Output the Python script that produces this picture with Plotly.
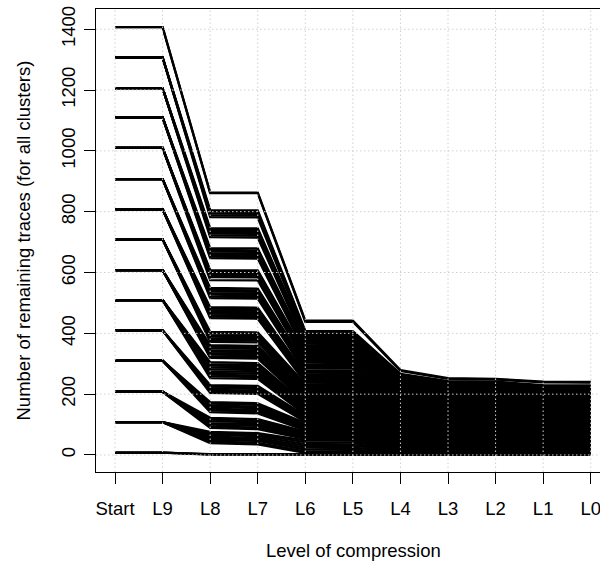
import plotly.graph_objects as go

# ---- categories / ticks ----
levels = ["Start", "L9", "L8", "L7", "L6", "L5", "L4", "L3", "L2", "L1", "L0"]
y_ticks = [0, 200, 400, 600, 800, 1000, 1200, 1400]

# ---- data: one entry per trace line (cluster), grouped by starting size ----
group_start = [1407, 1307, 1206, 1110, 1010, 907, 808, 709, 608, 509, 410, 310, 208, 108, 8]
group_size = [2, 5, 6, 7, 8, 7, 8, 7, 9, 10, 6, 7, 7, 8, 3]

l8 = [863, 861,
      805, 800, 794, 788, 782,
      746, 740, 734, 728, 722, 716,
      680, 674, 669, 663, 658, 652, 647,
      608, 604, 600, 596, 592, 588, 585, 575,
      549, 543, 538, 532, 527, 521, 516,
      486, 481, 476, 471, 465, 460, 455, 450,
      405, 400, 394, 389, 383, 378, 372,
      361, 356, 351, 345, 340, 335, 330, 324, 319,
      305, 299, 294, 288, 282, 276, 270, 264, 259, 253,
      230, 225, 220, 214, 209, 204,
      174, 169, 163, 158, 152, 147, 141,
      122, 116, 111, 105, 100, 94, 89,
      76, 71, 66, 60, 55, 50, 44, 39,
      3, 2, 1]

l7 = [863, 861,
      804, 799, 793, 787, 781,
      745, 739, 733, 727, 721, 715,
      679, 673, 668, 662, 657, 651, 646,
      607, 603, 599, 595, 591, 587, 584, 574,
      547, 541, 536, 530, 525, 519, 514,
      484, 479, 474, 469, 463, 458, 453, 448,
      403, 398, 392, 387, 381, 376, 370,
      359, 354, 349, 343, 338, 333, 328, 322, 317,
      302, 296, 291, 285, 279, 273, 267, 261, 256, 250,
      227, 222, 217, 211, 206, 201,
      170, 165, 159, 154, 148, 143, 137,
      118, 112, 107, 101, 96, 90, 85,
      72, 67, 62, 56, 51, 46, 40, 35,
      2, 1, 1]

l6 = [442, 438,
      408, 404, 400, 396, 392,
      388, 384, 379, 375, 370, 366,
      361, 357, 353, 349, 345, 341, 337,
      332, 328, 324, 320, 316, 312, 308, 304,
      298, 294, 290, 286, 279, 275, 271,
      266, 262, 258, 254, 250, 246, 242, 238,
      233, 229, 225, 221, 217, 213, 209,
      205, 201, 197, 193, 189, 185, 181, 177, 173,
      169, 165, 161, 157, 153, 149, 145, 141, 137, 133,
      129, 125, 121, 117, 113, 109,
      105, 101, 97, 93, 89, 85, 81,
      77, 73, 69, 65, 61, 57, 53,
      48, 42, 36, 30, 24, 18, 12, 7,
      2, 1, 0]

l5 = [442, 438,
      407, 403, 399, 394, 390,
      386, 382, 378, 373, 369, 364,
      359, 355, 351, 347, 343, 339, 335,
      330, 326, 322, 318, 314, 310, 306, 302,
      296, 292, 288, 284, 277, 273, 269,
      264, 260, 256, 252, 248, 244, 240, 236,
      231, 227, 223, 219, 215, 211, 207,
      203, 199, 195, 191, 187, 183, 179, 175, 171,
      167, 163, 159, 155, 151, 147, 143, 139, 135, 131,
      127, 123, 119, 115, 111, 107,
      103, 99, 95, 91, 87, 83, 79,
      75, 71, 67, 63, 59, 55, 51,
      47, 41, 35, 29, 23, 17, 11, 6,
      2, 1, 0]

l4 = [279, 276,
      267, 264, 261, 258, 255,
      253, 250, 248, 244, 242, 238,
      235, 233, 230, 227, 225, 222, 219,
      216, 214, 211, 208, 206, 203, 200, 198,
      194, 191, 189, 186, 181, 179, 176,
      173, 170, 168, 165, 162, 160, 157, 155,
      151, 149, 146, 143, 141, 138, 136,
      133, 130, 128, 125, 122, 120, 117, 115, 112,
      109, 107, 104, 102, 99, 96, 94, 91, 88, 86,
      83, 81, 78, 75, 73, 70,
      67, 65, 62, 60, 57, 54, 52,
      49, 47, 44, 41, 39, 36, 33,
      31, 27, 23, 19, 15, 11, 7, 4,
      1, 1, 0]

l3 = [253, 250,
      243, 241, 239, 236, 233,
      231, 228, 226, 223, 221, 218,
      215, 212, 210, 208, 205, 203, 200,
      197, 195, 193, 190, 188, 185, 183, 181,
      177, 175, 172, 170, 166, 163, 161,
      158, 155, 153, 151, 148, 146, 144, 141,
      138, 136, 133, 131, 129, 126, 124,
      121, 119, 117, 114, 112, 109, 107, 105, 102,
      100, 97, 95, 93, 90, 88, 86, 83, 81, 78,
      76, 74, 71, 69, 66, 64,
      62, 59, 57, 54, 52, 50, 47,
      45, 42, 40, 38, 35, 33, 30,
      28, 25, 21, 17, 14, 10, 7, 4,
      1, 0, 0]

l2 = [250, 248,
      241, 239, 237, 234, 231,
      229, 226, 224, 221, 219, 216,
      213, 210, 208, 206, 203, 201, 198,
      195, 193, 191, 188, 186, 183, 181, 179,
      175, 173, 170, 168, 164, 161, 159,
      156, 153, 151, 149, 146, 144, 142, 139,
      136, 134, 131, 129, 127, 124, 122,
      119, 117, 115, 112, 110, 107, 105, 103, 100,
      98, 95, 93, 91, 88, 86, 84, 81, 79, 76,
      74, 72, 69, 67, 64, 62,
      60, 57, 55, 52, 50, 48, 45,
      43, 40, 38, 36, 33, 31, 28,
      27, 24, 20, 16, 13, 9, 6, 3,
      1, 0, 0]

l1 = [241, 239,
      230, 227, 225, 222, 220,
      218, 215, 213, 210, 208, 205,
      202, 200, 198, 196, 193, 191, 189,
      186, 184, 182, 179, 177, 175, 173, 170,
      167, 165, 162, 160, 156, 154, 152,
      149, 147, 144, 142, 140, 138, 135, 133,
      130, 128, 126, 124, 121, 119, 117,
      114, 112, 110, 108, 105, 103, 101, 99, 96,
      94, 92, 90, 87, 85, 83, 81, 78, 76, 74,
      72, 69, 67, 65, 63, 60,
      58, 56, 54, 51, 49, 47, 45,
      42, 40, 38, 36, 33, 31, 29,
      27, 23, 20, 16, 13, 10, 6, 3,
      1, 0, 0]

l0 = [240, 238,
      229, 226, 224, 221, 219,
      217, 214, 212, 209, 207, 204,
      201, 199, 197, 195, 192, 190, 188,
      185, 183, 181, 178, 176, 174, 172, 169,
      166, 164, 161, 159, 155, 153, 151,
      148, 146, 143, 141, 139, 137, 134, 132,
      129, 127, 125, 123, 120, 118, 116,
      113, 111, 109, 107, 104, 102, 100, 98, 95,
      93, 91, 89, 86, 84, 82, 80, 77, 75, 73,
      71, 68, 66, 64, 62, 59,
      57, 55, 53, 50, 48, 46, 44,
      41, 39, 37, 35, 32, 30, 28,
      26, 22, 19, 15, 12, 9, 5, 2,
      1, 0, 0]

# start and L9 are identical (flat segment)
start = [v for v, n in zip(group_start, group_size) for _ in range(n)]
l9 = list(start)

columns = [start, l9, l8, l7, l6, l5, l4, l3, l2, l1, l0]
n_lines = len(start)
for c in columns:
    assert len(c) == n_lines, len(c)

xs, ys = [], []
for i in range(n_lines):
    for j, col in enumerate(columns):
        xs.append(j)
        ys.append(col[i])
    xs.append(None)
    ys.append(None)

fig = go.Figure()
fig.add_trace(go.Scatter(x=xs, y=ys, mode="lines",
                         line=dict(color="black", width=2.3),
                         hoverinfo="skip", showlegend=False))

FONT = "Liberation Sans, Arial, Helvetica, sans-serif"
GRID = "#D0D0D0"

# dotted grid drawn on top of the lines (as in the reference)
shapes = []
for j in range(len(levels)):
    shapes.append(dict(type="line", xref="x", yref="paper", x0=j, x1=j, y0=0, y1=1,
                       line=dict(color=GRID, width=1, dash="1.5px,2.5px"), layer="above"))
for v in y_ticks:
    shapes.append(dict(type="line", xref="paper", yref="y", x0=0, x1=1, y0=v, y1=v,
                       line=dict(color=GRID, width=1, dash="1.5px,2.5px"), layer="above"))

fig.update_layout(
    width=600, height=567,
    margin=dict(l=96, r=0, t=9, b=95, autoexpand=False),
    paper_bgcolor="white", plot_bgcolor="white",
    font=dict(family=FONT, size=18.5, color="black"),
    showlegend=False,
    hovermode=False,
    shapes=shapes,
    annotations=[
        dict(text="Level of compression", xref="paper", yref="paper",
             x=(353 - 96) / 504, y=-(550 - 472) / 463, xanchor="center", yanchor="middle",
             showarrow=False, font=dict(family=FONT, size=18.5, color="black")),
        dict(text="Number of remaining traces (for all clusters)", xref="paper", yref="paper",
             x=-(96 - 23) / 504, y=0.5, xanchor="center", yanchor="middle", textangle=-90,
             showarrow=False, font=dict(family=FONT, size=18.5, color="black")),
    ],
)
fig.update_xaxes(range=[-0.4, 10.195], tickmode="array", tickvals=list(range(len(levels))),
                 ticktext=levels, showgrid=False, zeroline=False, automargin=False,
                 ticklabeloverflow="allow", ticklabelstandoff=9,
                 showline=True, linecolor="black", linewidth=1, mirror=True,
                 ticks="outside", ticklen=11, tickcolor="black", tickwidth=1)
fig.update_yaxes(range=[-56, 1466.5], tickmode="array", tickvals=y_ticks,
                 ticktext=[str(v) for v in y_ticks], tickangle=-90,
                 showgrid=False, zeroline=False, automargin=False,
                 ticklabelstandoff=2,
                 showline=True, linecolor="black", linewidth=1, mirror=False,
                 ticks="outside", ticklen=11, tickcolor="black", tickwidth=1)

fig.write_html("out.html",
               config={"displayModeBar": False, "staticPlot": True},
               post_script="document.body.style.margin='0';document.body.style.padding='0';")
